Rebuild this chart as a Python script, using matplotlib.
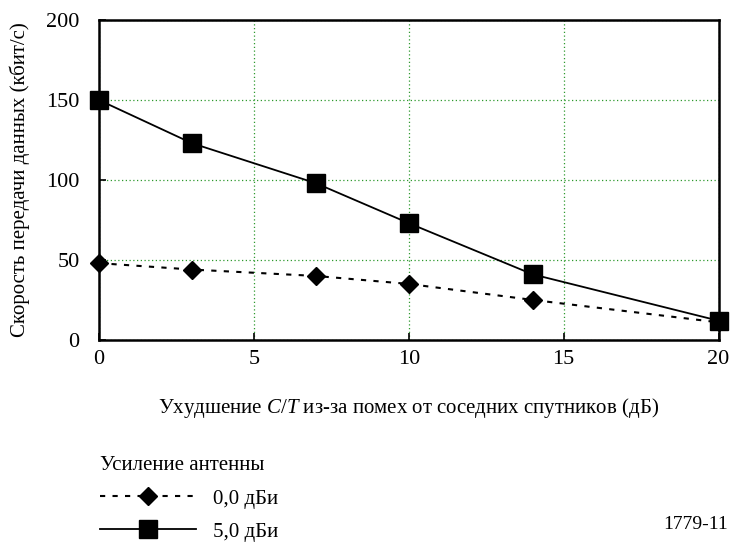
import matplotlib.pyplot as plt

plt.rcParams['font.family'] = ['Liberation Serif', 'DejaVu Serif']
plt.rcParams['mathtext.fontset'] = 'custom'
plt.rcParams['mathtext.it'] = 'Liberation Serif:italic'
plt.rcParams['mathtext.rm'] = 'Liberation Serif'

# data
degradation = [0, 3, 7, 10, 14, 20]
rate_0dbi = [48, 44, 40, 35, 25, 11]
rate_5dbi = [150, 123, 98, 73, 41, 12]
series_labels = ['0,0 дБи', '5,0 дБи']
x_ticks = [0, 5, 10, 15, 20]
y_ticks = [0, 50, 100, 150, 200]

fig = plt.figure(figsize=(7.35, 5.43), dpi=100)
ax = fig.add_axes([0.1347, 0.374, 0.843, 0.589])

l1, = ax.plot(degradation, rate_0dbi, color='black', lw=1.5, ls=(0, (2.5, 3.5)),
              marker='D', markersize=9.5, clip_on=False, zorder=3)
l2, = ax.plot(degradation, rate_5dbi, color='black', lw=1.3, ls='-',
              marker='s', markersize=13, clip_on=False, zorder=3)

ax.set_xlim(0, 20)
ax.set_ylim(0, 200)
ax.set_xticks(x_ticks)
ax.set_yticks(y_ticks)
ax.tick_params(axis='both', direction='in', labelsize=16, length=5, width=1.2)
ax.tick_params(axis='y', pad=14)
ax.tick_params(axis='x', pad=7)
for s in ax.spines.values():
    s.set_linewidth(1.8)
ax.grid(True, color='#2e9a2e', ls=(0, (1, 2)), lw=0.9)

ax.set_ylabel('Скорость передачи данных (кбит/с)', fontsize=15, labelpad=12)
ax.set_xlabel('Ухудшение $C/T$ из-за помех от соседних спутников (дБ)',
              fontsize=15, labelpad=20)

leg = fig.legend([l1, l2], series_labels, loc='upper left',
                 bbox_to_anchor=(0.111, 0.194), frameon=False, fontsize=15,
                 title='Усиление антенны', title_fontsize=15,
                 handlelength=4.6, handletextpad=0.8, labelspacing=0.65)
leg._legend_box.align = 'left'

fig.text(0.99, 0.025, '1779-11', fontsize=14, ha='right')

fig.savefig('out.png', dpi=100)
